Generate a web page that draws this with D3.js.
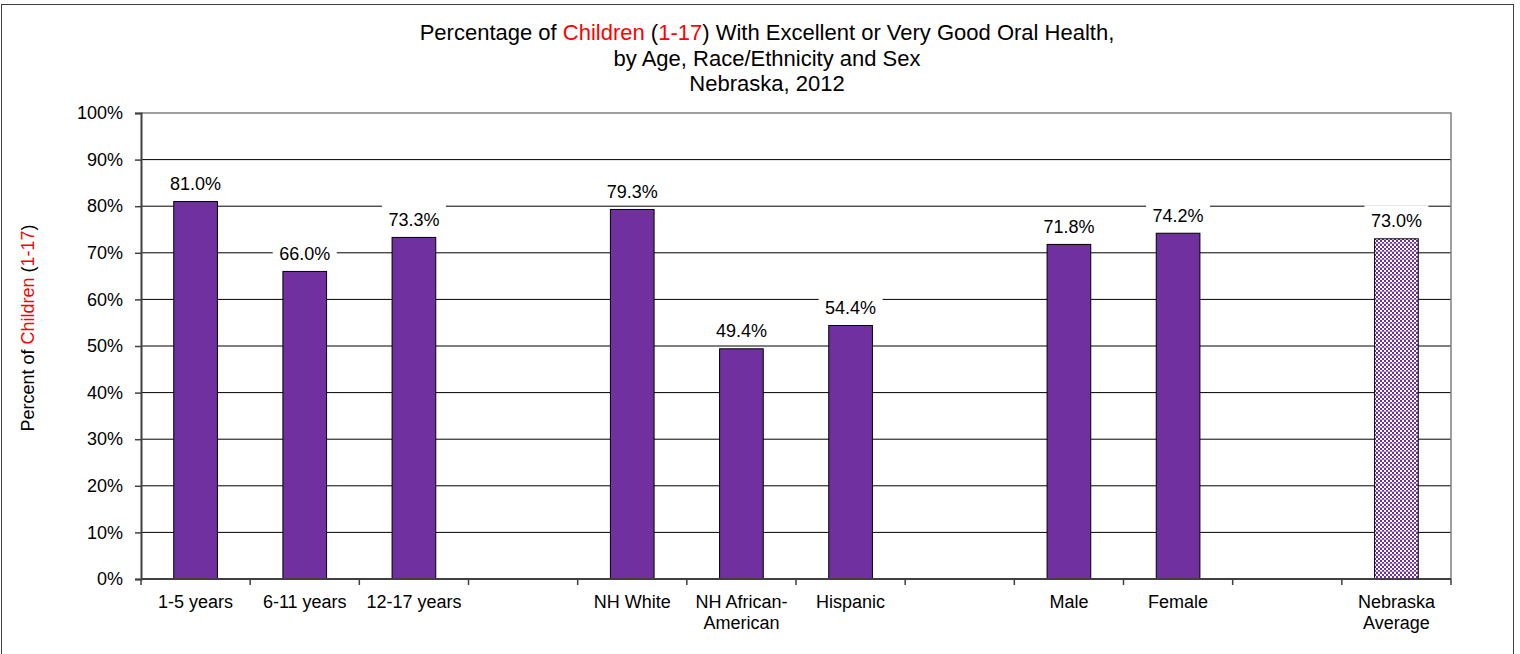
<!DOCTYPE html>
<html>
<head>
<meta charset="utf-8">
<script src="https://cdn.jsdelivr.net/npm/d3@7"></script>
<style>
  html, body { margin: 0; padding: 0; background: #fff; }
  svg { display: block; font-family: "Liberation Sans", Arial, sans-serif; }
</style>
</head>
<body>
<svg id="chart" width="1520" height="654"></svg>
<script>
// ---- data ----
const categories = ["1-5 years", "6-11 years", "12-17 years", "", "NH White", "NH African-\nAmerican", "Hispanic", "", "Male", "Female", "", "Nebraska\nAverage"];
const values = [81.0, 66.0, 73.3, null, 79.3, 49.4, 54.4, null, 71.8, 74.2, null, 73.0];
const isAverage = [false, false, false, false, false, false, false, false, false, false, false, true];
const yTicks = [0, 10, 20, 30, 40, 50, 60, 70, 80, 90, 100];
const titleLines = [
  [["Percentage of ", "#000"], ["Children", "#ff0000"], [" (", "#000"], ["1-17", "#ff0000"], [") With Excellent or Very Good Oral Health,", "#000"]],
  [["by Age, Race/Ethnicity and Sex", "#000"]],
  [["Nebraska, 2012", "#000"]]
];
const yTitle = [["Percent of ", "#000"], ["Children", "#ff0000"], [" (", "#000"], ["1-17", "#ff0000"], [")", "#000"]];

// ---- layout ----
const svg = d3.select("#chart");
const pLeft = 141, pRight = 1451, pTop = 113, pBottom = 579;
const purple = "#7030A0";

// pattern for the average bar
const defs = svg.append("defs");
const pat = defs.append("pattern").attr("id", "checker").attr("patternUnits", "userSpaceOnUse")
  .attr("width", 8).attr("height", 8);
pat.append("rect").attr("width", 8).attr("height", 8).attr("fill", "#ffffff");
for (let i = 0; i < 4; i++) for (let j = 0; j < 4; j++) {
  if ((i + j) % 2 === 0) pat.append("rect").attr("x", i * 2).attr("y", j * 2).attr("width", 2).attr("height", 2).attr("fill", purple);
}
pat.append("rect").attr("x", 0).attr("y", 3).attr("width", 8).attr("height", 1).attr("fill", "#b48ad4").attr("opacity", 0.6);

// outer frame
svg.append("rect").attr("x", 1.5).attr("y", 4.5).attr("width", 1512).attr("height", 660)
  .attr("fill", "none").attr("stroke", "#404040").attr("stroke-width", 1);

const x = d3.scaleBand().domain(d3.range(categories.length)).range([pLeft, pRight]).paddingInner(0).paddingOuter(0);
const y = d3.scaleLinear().domain([0, 100]).range([pBottom, pTop]);
const barW = x.bandwidth() * 0.4;

// gridlines
svg.append("g").selectAll("line").data(yTicks.filter(t => t > 0 && t < 100)).join("line")
  .attr("x1", pLeft).attr("x2", pRight)
  .attr("y1", d => y(d)).attr("y2", d => y(d))
  .attr("stroke", "#000").attr("stroke-width", 1);

// plot area border (top, right)
svg.append("path").attr("d", `M${pLeft},${y(100)}H${pRight}V${pBottom}`)
  .attr("fill", "none").attr("stroke", "#808080").attr("stroke-width", 1.5);

// data label backgrounds (cover gridlines)
const data = values.map((v, i) => ({ v, i, avg: isAverage[i] })).filter(d => d.v !== null);
svg.append("g").selectAll("rect").data(data).join("rect")
  .attr("x", d => x(d.i) + x.bandwidth() / 2 - 32)
  .attr("y", d => y(d.v) - 11.5 - 22)
  .attr("width", 64).attr("height", 27)
  .attr("fill", "#fff");

// bars
svg.append("g").selectAll("rect").data(data).join("rect")
  .attr("x", d => x(d.i) + (x.bandwidth() - barW) / 2)
  .attr("y", d => y(d.v))
  .attr("width", barW)
  .attr("height", d => y(0) - y(d.v))
  .attr("fill", d => d.avg ? "url(#checker)" : purple)
  .attr("stroke", "#000").attr("stroke-width", 1);

// data labels
svg.append("g").selectAll("text").data(data).join("text")
  .attr("x", d => x(d.i) + x.bandwidth() / 2)
  .attr("y", d => y(d.v) - 11.5)
  .attr("text-anchor", "middle").attr("font-size", 18).attr("fill", "#000")
  .text(d => d.v.toFixed(1) + "%");

// y axis
const yAxis = d3.axisLeft(y).tickValues(yTicks).tickSize(6).tickPadding(12).tickFormat(d => d + "%");
const yg = svg.append("g").attr("transform", `translate(${pLeft},0)`).call(yAxis);
yg.select(".domain").attr("stroke", "#404040").attr("stroke-width", 2);
yg.selectAll(".tick line").attr("stroke", "#404040").attr("stroke-width", 1.5);
yg.selectAll(".tick text").attr("font-size", 18).attr("fill", "#000")
  .attr("font-family", "'Liberation Sans', Arial, sans-serif");

// x axis
const xg = svg.append("g").attr("transform", `translate(0,${pBottom})`);
xg.append("line").attr("x1", pLeft).attr("x2", pRight).attr("y1", 0).attr("y2", 0)
  .attr("stroke", "#404040").attr("stroke-width", 2);
const boundaries = d3.range(categories.length + 1).map(i => i < categories.length ? x(i) : pRight);
xg.selectAll("line.tk").data(boundaries).join("line").attr("class", "tk")
  .attr("x1", d => d).attr("x2", d => d).attr("y1", 0).attr("y2", 6)
  .attr("stroke", "#404040").attr("stroke-width", 1.5);
const lab = xg.selectAll("text").data(categories.map((c, i) => ({ c, i })).filter(d => d.c)).join("text")
  .attr("text-anchor", "middle").attr("font-size", 18).attr("fill", "#000")
  .attr("transform", d => `translate(${x(d.i) + x.bandwidth() / 2},0)`);
lab.each(function (d) {
  const parts = d.c.split("\n");
  d3.select(this).selectAll("tspan").data(parts).join("tspan")
    .attr("x", 0).attr("y", (p, k) => 29 + k * 20.5).text(p => p);
});

// title
const titleX = 767;
const titleBase = [40, 65.5, 91];
titleLines.forEach((line, k) => {
  const t = svg.append("text").attr("x", titleX).attr("y", titleBase[k])
    .attr("text-anchor", "middle").attr("font-size", 22);
  line.forEach(([s, c]) => t.append("tspan").attr("fill", c).text(s));
});

// y axis title
const yt = svg.append("text").attr("transform", "translate(33.5,328) rotate(-90)")
  .attr("text-anchor", "middle").attr("font-size", 18);
yTitle.forEach(([s, c]) => yt.append("tspan").attr("fill", c).text(s));
</script>
</body>
</html>
